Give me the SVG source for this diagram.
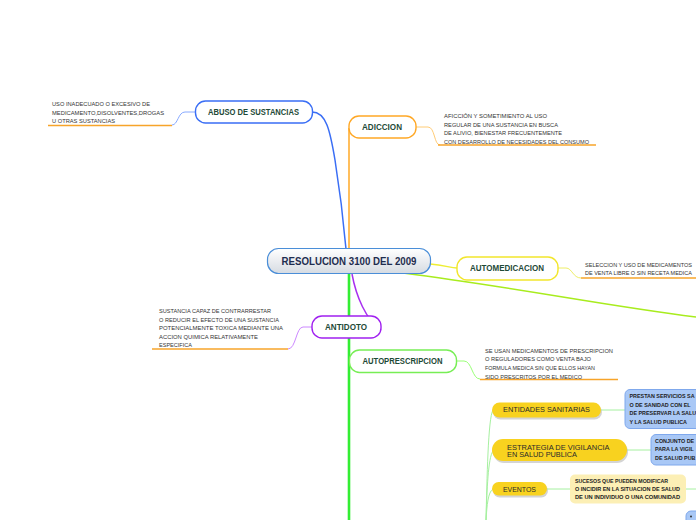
<svg xmlns="http://www.w3.org/2000/svg" width="696" height="520" viewBox="0 0 696 520">
<defs>
<linearGradient id="cg" x1="0" y1="0" x2="0" y2="1">
<stop offset="0" stop-color="#ffffff"/>
<stop offset="1" stop-color="#d6dbe2"/>
</linearGradient>
<style>
text{font-family:"Liberation Sans",Arial,sans-serif;}
.lbl{font-weight:bold;fill:#1e4a37;font-size:8.6px;}
.det{font-size:6px;fill:#333;}
.det2{font-size:5.6px;fill:#333;}
.yl{font-size:8px;fill:#2a2a2a;}
.bx{font-size:5.4px;font-weight:bold;fill:#222;}
.ul{stroke:#f7a42a;stroke-width:1.6;fill:none;}
.node{fill:#fff;stroke-width:1.4;}
.ynode{fill:#f8d21f;}
.shadow{fill:#b8b8b8;opacity:0.6;}
.bbox{fill:#a9c8f6;stroke:#7fa8ec;stroke-width:1;}
.sub{stroke:#a6f0a0;stroke-width:1;fill:none;}
</style>
</defs>
<rect width="696" height="520" fill="#fff"/>
<g id="connectors" fill="none">
<path d="M346 249 C343 215 339 185 335 160 C330 130 326 112 312 112" stroke="#3a6ef5" stroke-width="1.5"/>
<path d="M349 249 L349 128" stroke="#ffa826" stroke-width="1.5"/>
<path d="M430 264 C445 265 450 268 457 268" stroke="#eeee33" stroke-width="1.5"/>
<path d="M403 273 C520 288 600 305 696 317" stroke="#a8ec1e" stroke-width="1.6"/>
<path d="M352 274 C356 296 366 320 381 330" stroke="#a830f0" stroke-width="1.5"/>
<path d="M349 274 L349 520" stroke="#33ee33" stroke-width="2.6"/>
<path d="M195 112 L185 112 C178 112 178 125 172 125" stroke="#88aaff" stroke-width="1"/>
<path d="M416 127 L428 127 C435 127 434 145 440 145" stroke="#ffcc77" stroke-width="1"/>
<path d="M558 268 L566 268 C572 268 573 278 581 278" stroke="#eeee66" stroke-width="1"/>
<path d="M312 327 L303 327 C296 327 296 349 288 349" stroke="#cc88ff" stroke-width="1"/>
<path d="M456 361 L464 361 C472 361 472 379 480 379" stroke="#99ff77" stroke-width="1"/>
<path class="sub" d="M486 520 C487 480 488 418 493 410"/>
<path class="sub" d="M486 520 C487 490 488 458 493 451"/>
<path class="sub" d="M486 520 C487 505 488 492 493 489"/>
<path class="sub" d="M601 410 L625 410"/>
<path class="sub" d="M627 450 L651 450"/>
<path class="sub" d="M547 489 L570 489"/>
<path class="sub" d="M686 489 L696 489"/>
<path class="ul" d="M48 125.5 L172 125.5"/>
<path class="ul" d="M438 145 L596 145"/>
<path class="ul" d="M581 278 L696 278"/>
<path class="ul" d="M152 349 L288 349"/>
<path class="ul" d="M480 379.5 L618 379.5" stroke="#f9b23e"/>
</g>
<g id="central">
<rect x="267.5" y="248.5" width="163" height="25" rx="11" fill="url(#cg)" stroke="#4a8ed8" stroke-width="1.2"/>
<text x="349" y="265.3" text-anchor="middle" font-size="10.2" font-weight="bold" fill="#1e2d4f" textLength="135" lengthAdjust="spacingAndGlyphs">RESOLUCION 3100 DEL 2009</text>
</g>
<g id="abuso">
<rect class="node" x="195.5" y="101" width="117" height="22" rx="10" stroke="#3a6ef5"/>
<text class="lbl" x="208" y="115" textLength="91" lengthAdjust="spacingAndGlyphs">ABUSO DE SUSTANCIAS</text>
<text class="det" x="52" y="106" textLength="98" lengthAdjust="spacingAndGlyphs">USO INADECUADO O EXCESIVO DE</text>
<text class="det" x="52" y="114.5" textLength="112" lengthAdjust="spacingAndGlyphs">MEDICAMENTO,DISOLVENTES,DROGAS</text>
<text class="det" x="52" y="123" textLength="63" lengthAdjust="spacingAndGlyphs">U OTRAS SUSTANCIAS</text>
</g>
<g id="adiccion">
<rect class="node" x="349" y="116" width="67" height="22" rx="10" stroke="#ffa826"/>
<text class="lbl" x="362" y="130" textLength="40" lengthAdjust="spacingAndGlyphs">ADICCION</text>
<text class="det" x="444" y="118" textLength="103" lengthAdjust="spacingAndGlyphs">AFICCIÓN Y SOMETIMIENTO AL USO</text>
<text class="det" x="444" y="126.5" textLength="114" lengthAdjust="spacingAndGlyphs">REGULAR DE UNA SUSTANCIA EN BUSCA</text>
<text class="det" x="444" y="135" textLength="118" lengthAdjust="spacingAndGlyphs">DE ALIVIO, BIENESTAR FRECUENTEMENTE</text>
<text class="det" x="444" y="143.5" textLength="145" lengthAdjust="spacingAndGlyphs">CON DESARROLLO DE NECESIDADES DEL CONSUMO</text>
</g>
<g id="automedicacion">
<rect class="node" x="457" y="257" width="101" height="23" rx="10" stroke="#f2e62c"/>
<text class="lbl" x="470" y="271" textLength="74" lengthAdjust="spacingAndGlyphs">AUTOMEDICACION</text>
<text class="det2" x="585" y="267" textLength="107" lengthAdjust="spacingAndGlyphs">SELECCION Y USO DE MEDICAMENTOS</text>
<text class="det2" x="585" y="275" textLength="107" lengthAdjust="spacingAndGlyphs">DE VENTA LIBRE O SIN RECETA MEDICA</text>
</g>
<g id="antidoto">
<rect class="node" x="312" y="316" width="69" height="22" rx="10" stroke="#a020f0"/>
<text class="lbl" x="325" y="330" textLength="42" lengthAdjust="spacingAndGlyphs">ANTIDOTO</text>
<text class="det" x="159" y="313" textLength="112" lengthAdjust="spacingAndGlyphs">SUSTANCIA CAPAZ DE CONTRARRESTAR</text>
<text class="det" x="159" y="321.5" textLength="120" lengthAdjust="spacingAndGlyphs">O REDUCIR EL EFECTO DE UNA SUSTANCIA</text>
<text class="det" x="159" y="330" textLength="124" lengthAdjust="spacingAndGlyphs">POTENCIALMENTE TOXICA MEDIANTE UNA</text>
<text class="det" x="159" y="338.5" textLength="99" lengthAdjust="spacingAndGlyphs">ACCION QUIMICA RELATIVAMENTE</text>
<text class="det" x="159" y="347" textLength="33" lengthAdjust="spacingAndGlyphs">ESPECIFICA</text>
</g>
<g id="autoprescripcion">
<rect class="node" x="349.5" y="350" width="107" height="22.5" rx="10" stroke="#77ee55"/>
<text class="lbl" x="362.5" y="364.3" textLength="80" lengthAdjust="spacingAndGlyphs">AUTOPRESCRIPCION</text>
<text class="det" x="485" y="352.5" textLength="128" lengthAdjust="spacingAndGlyphs">SE USAN MEDICAMENTOS DE PRESCRIPCION</text>
<text class="det" x="485" y="361.3" textLength="106" lengthAdjust="spacingAndGlyphs">O REGULADORES COMO VENTA BAJO</text>
<text class="det" x="485" y="370" textLength="110" lengthAdjust="spacingAndGlyphs">FORMULA MEDICA SIN QUE ELLOS HAYAN</text>
<text class="det" x="485" y="378.5" textLength="97" lengthAdjust="spacingAndGlyphs">SIDO PRESCRITOS POR EL MEDICO</text>
</g>
<g id="entidades">
<rect class="shadow" x="493" y="404.5" width="109" height="15" rx="7.5"/>
<rect class="ynode" x="492" y="402.5" width="109" height="15" rx="7.5"/>
<text class="yl" x="503" y="412.3" textLength="87" lengthAdjust="spacingAndGlyphs">ENTIDADES SANITARIAS</text>
<rect class="bbox" x="625" y="389.5" width="80" height="39" rx="5"/>
<text class="bx" x="629.5" y="398">PRESTAN SERVICIOS SA</text>
<text class="bx" x="629.5" y="406.5">O DE SANIDAD CON EL</text>
<text class="bx" x="629.5" y="415">DE PRESERVAR LA SALU</text>
<text class="bx" x="629.5" y="423.5">Y LA SALUD PUBLICA</text>
</g>
<g id="estrategia">
<rect class="shadow" x="493" y="441" width="135" height="22" rx="11"/>
<rect class="ynode" x="492" y="439" width="135" height="22" rx="11"/>
<text class="yl" x="507" y="449.5" textLength="102.6" lengthAdjust="spacingAndGlyphs">ESTRATEGIA DE VIGILANCIA</text>
<text class="yl" x="507" y="457.3" textLength="70" lengthAdjust="spacingAndGlyphs">EN SALUD PUBLICA</text>
<rect class="bbox" x="651" y="434.5" width="60" height="30.5" rx="5"/>
<text class="bx" x="655" y="443">CONJUNTO DE</text>
<text class="bx" x="655" y="451.3">PARA LA VIGIL</text>
<text class="bx" x="655" y="460.3">DE SALUD PUB</text>
</g>
<g id="eventos">
<rect class="shadow" x="493" y="484" width="55" height="13.5" rx="6.7"/>
<rect class="ynode" x="492" y="482" width="55" height="13.5" rx="6.7"/>
<text class="yl" x="503" y="492.2" textLength="33" lengthAdjust="spacingAndGlyphs">EVENTOS</text>
<rect x="570" y="474.5" width="116" height="29" rx="5" fill="#fcefb5"/>
<text class="bx" x="575" y="483" textLength="93" lengthAdjust="spacingAndGlyphs">SUCESOS QUE PUEDEN MODIFICAR</text>
<text class="bx" x="575" y="491.3" textLength="105" lengthAdjust="spacingAndGlyphs">O INCIDIR EN LA SITUACION DE SALUD</text>
<text class="bx" x="575" y="499.3" textLength="105" lengthAdjust="spacingAndGlyphs">DE UN INDIVIDUO O UNA COMUNIDAD</text>
</g>
<g id="next-box">
<rect class="bbox" x="686" y="511" width="20" height="20" rx="5"/>
<circle cx="691" cy="516.5" r="1" fill="#333"/>
</g>
</svg>
